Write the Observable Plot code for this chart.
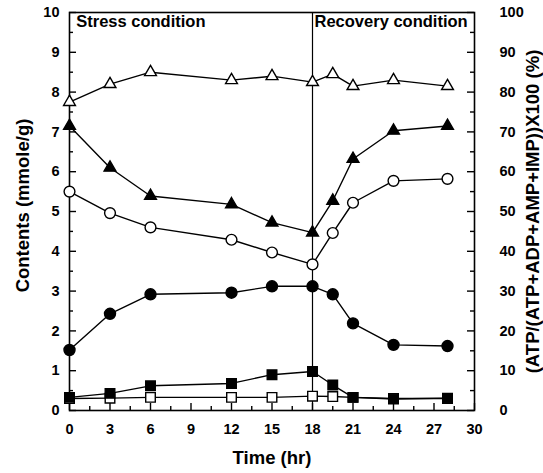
<!DOCTYPE html>
<html>
<head>
<meta charset="utf-8">
<script src="https://cdn.jsdelivr.net/npm/d3@7"></script>
<script src="https://cdn.jsdelivr.net/npm/@observablehq/plot@0.6"></script>
<style>
  body { margin: 0; background: #fff; }
  #chart svg { font-family: "Liberation Sans", Arial, Helvetica, sans-serif; font-weight: bold; }
</style>
</head>
<body>
<div id="chart"></div>
<script>
// Time points (hr)
const times = [0, 3, 6, 12, 15, 18, 19.5, 21, 24, 28];
// Open triangles: ATP/(ATP+ADP+AMP+IMP) x100 (%), right axis
const openTriangle = [77.5, 82, 85, 83, 84, 82.5, 84.5, 81.5, 83, 81.5];
// Contents (mmole/g), left axis
const filledTriangle = [7.15, 6.1, 5.39, 5.18, 4.72, 4.47, 5.27, 6.32, 7.03, 7.15];
const openCircle = [5.5, 4.96, 4.6, 4.29, 3.97, 3.67, 4.46, 5.22, 5.77, 5.82];
const filledCircle = [1.52, 2.43, 2.92, 2.96, 3.12, 3.12, 2.92, 2.19, 1.65, 1.62];
const openSquare = [0.3, 0.31, 0.33, 0.33, 0.33, 0.36, 0.35, 0.33, 0.3, 0.3];
const filledSquare = [0.33, 0.43, 0.62, 0.68, 0.9, 0.98, 0.64, 0.33, 0.29, 0.31];

// Axis ticks
const xMajor = [0, 3, 6, 9, 12, 15, 18, 21, 24, 27, 30];
const xMinor = [1.5, 4.5, 7.5, 10.5, 13.5, 16.5, 19.5, 22.5, 25.5, 28.5];
const yLeftMajor = [0, 1, 2, 3, 4, 5, 6, 7, 8, 9, 10];
const yLeftMinor = [0.5, 1.5, 2.5, 3.5, 4.5, 5.5, 6.5, 7.5, 8.5, 9.5];
const yRightMajor = [0, 10, 20, 30, 40, 50, 60, 70, 80, 90, 100];
const yRightMinor = [5, 15, 25, 35, 45, 55, 65, 75, 85, 95];

const stressShift = [18];
const conditionLabels = [
  {t: 0.5, text: "Stress condition"},
  {t: 18.15, text: "Recovery condition"}
];
const xTitle = ["Time (hr)"];
const leftTitle = ["Contents (mmole/g)"];
const rightTitle = ["(ATP/(ATP+ADP+AMP+IMP))X100 (%)"];

const W = 543, H = 473, ML = 69, MR = 69, MT = 12, MB = 63;
const FW = W - ML - MR, FH = H - MT - MB;
const X_MAX = 30, Y_MAX = 10;
const MAJOR = 7, MINOR = 4;

const series = [
  {name: "openSquare", values: openSquare, symbol: "square", fill: "white", r: 5.4, scale: 1},
  {name: "filledSquare", values: filledSquare, symbol: "square", fill: "black", r: 5.4, scale: 1},
  {name: "filledCircle", values: filledCircle, symbol: "circle", fill: "black", r: 5.5, scale: 1},
  {name: "openCircle", values: openCircle, symbol: "circle", fill: "white", r: 5.4, scale: 1},
  {name: "filledTriangle", values: filledTriangle, symbol: "triangle", fill: "black", r: 4.4, scale: 1},
  {name: "openTriangle", values: openTriangle, symbol: "triangle", fill: "white", r: 4.4, scale: 0.1}
];

const marks = [];
for (const s of series) {
  const rows = times.map((t, i) => ({t, v: s.values[i] * s.scale}));
  marks.push(Plot.line(rows, {x: "t", y: "v", stroke: "black", strokeWidth: 1.4}));
}
for (const s of series) {
  const rows = times.map((t, i) => ({t, v: s.values[i] * s.scale}));
  marks.push(Plot.dot(rows, {x: "t", y: "v", symbol: () => s.symbol, fill: s.fill, stroke: "black", strokeWidth: 1.4, r: s.r}));
}

const tk = {stroke: "black", strokeWidth: 1.4};

const chart = Plot.plot({
  width: W,
  height: H,
  marginLeft: ML,
  marginRight: MR,
  marginTop: MT,
  marginBottom: MB,
  x: {domain: [0, X_MAX]},
  y: {domain: [0, Y_MAX]},
  symbol: {type: "identity"},
  marks: [
    Plot.frame({stroke: "black", strokeWidth: 1.6}),
    Plot.ruleX(stressShift, {stroke: "black", strokeWidth: 1.2}),
    // inward tick marks (pixel insets from the frame edges)
    Plot.ruleX(xMajor, {x: d => d, insetTop: FH - MAJOR, ...tk}),
    Plot.ruleX(xMinor, {x: d => d, insetTop: FH - MINOR, ...tk}),
    Plot.ruleY(yLeftMajor, {y: d => d, insetRight: FW - MAJOR, ...tk}),
    Plot.ruleY(yLeftMinor, {y: d => d, insetRight: FW - MINOR, ...tk}),
    Plot.ruleY(yRightMajor, {y: d => d / 10, insetLeft: FW - MAJOR, ...tk}),
    Plot.ruleY(yRightMinor, {y: d => d / 10, insetLeft: FW - MINOR, ...tk}),
    // tick labels
    Plot.axisX(xMajor, {anchor: "bottom", tickSize: 0, tickPadding: 13, fontSize: 14.5, label: null}),
    Plot.axisY(yLeftMajor, {anchor: "left", tickSize: 0, tickPadding: 10, fontSize: 14.5, label: null}),
    Plot.axisY(yRightMajor.map(d => d / 10), {anchor: "right", tickSize: 0, tickPadding: 25, fontSize: 14.5, tickFormat: d => String(Math.round(d * 10)), label: null}),
    // axis titles
    Plot.text(xTitle, {frameAnchor: "bottom", textAnchor: "middle", lineAnchor: "middle", dy: 48, text: d => d, fontSize: 18.5, fontWeight: "bold", fill: "black"}),
    Plot.text(leftTitle, {frameAnchor: "left", textAnchor: "middle", lineAnchor: "middle", rotate: -90, dx: -46, dy: -6, text: d => d, fontSize: 18.5, fontWeight: "bold", fill: "black"}),
    Plot.text(rightTitle, {frameAnchor: "right", textAnchor: "middle", lineAnchor: "middle", rotate: -90, dx: 59, text: d => d, fontSize: 18.5, fontWeight: "bold", fill: "black"}),
    ...marks,
    Plot.text(conditionLabels, {x: "t", y: () => 9.76, text: "text", textAnchor: "start", lineAnchor: "middle", fontSize: 16.5, fontWeight: "bold", fill: "black"})
  ]
});
document.getElementById("chart").appendChild(chart);
</script>
</body>
</html>
